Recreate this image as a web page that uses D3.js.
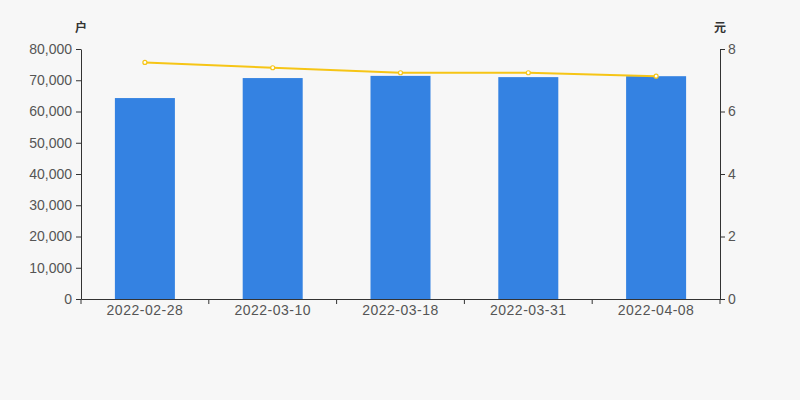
<!DOCTYPE html>
<html><head><meta charset="utf-8">
<script src="https://cdn.jsdelivr.net/npm/d3@7"></script>
<style>body{margin:0;background:#f7f7f7;}svg{display:block;}</style>
</head><body><svg id="c" width="800" height="400"></svg>
<script>
const categories = ["2022-02-28","2022-03-10","2022-03-18","2022-03-31","2022-04-08"];
const holders = [64300, 70700, 71400, 71000, 71300];
const prices = [7.57, 7.40, 7.24, 7.24, 7.13];
const leftTicks = [0,10000,20000,30000,40000,50000,60000,70000,80000];
const rightTicks = [0,2,4,6,8];

const svg = d3.select("#c");
svg.append("rect").attr("width",800).attr("height",400).attr("fill","#f7f7f7");
const m = {l:81, r:720, t:49, b:299};
const x = d3.scaleBand().domain(categories).range([m.l,m.r]);
const yL = d3.scaleLinear().domain([0,80000]).range([m.b,m.t]);
const yR = d3.scaleLinear().domain([0,8]).range([m.b,m.t]);
const font = "Arial, 'Liberation Sans', sans-serif";
const tc = "#555";

const bw = 60;
svg.append("g").selectAll("rect").data(categories).join("rect")
  .attr("x",(d)=>x(d)+x.bandwidth()/2-bw/2).attr("width",bw)
  .attr("y",(d,i)=>yL(holders[i])).attr("height",(d,i)=>m.b-yL(holders[i]))
  .attr("fill","#3482e2");

const gL = svg.append("g").attr("transform",`translate(${m.l},0)`)
  .call(d3.axisLeft(yL).tickValues(leftTicks).tickFormat(d3.format(",")).tickSize(5).tickSizeOuter(0));
const gR = svg.append("g").attr("transform",`translate(${m.r},0)`)
  .call(d3.axisRight(yR).tickValues(rightTicks).tickSize(5).tickSizeOuter(0));
const gX = svg.append("g").attr("transform",`translate(0,${m.b})`)
  .call(d3.axisBottom(x).tickSize(0).tickSizeOuter(0));
gX.selectAll("line.bt").data(d3.range(categories.length+1)).join("line").attr("class","bt")
  .attr("x1",i=>m.l+i*x.step()).attr("x2",i=>m.l+i*x.step()).attr("y1",0).attr("y2",5)
  .attr("stroke","#333");
[gL,gR,gX].forEach(g=>{
  g.selectAll(".domain").attr("stroke","#333");
  g.selectAll(".tick line").attr("stroke","#333");
  g.selectAll("text").attr("fill",tc).style("font-size","14px").style("font-family",font);
});
gL.selectAll(".tick text").attr("x",-9);
gR.selectAll(".tick text").attr("x",8);
gX.selectAll(".tick text").attr("y",6).style("letter-spacing","0.5px");

const line = d3.line().x((d,i)=>x(categories[i])+x.bandwidth()/2).y(d=>yR(d));
svg.append("path").datum(prices).attr("d",line).attr("fill","none")
  .attr("stroke","#f6c516").attr("stroke-width",2);
svg.append("g").selectAll("circle").data(prices).join("circle")
  .attr("cx",(d,i)=>x(categories[i])+x.bandwidth()/2).attr("cy",d=>yR(d)).attr("r",2)
  .attr("fill","#fff").attr("stroke","#f6c516").attr("stroke-width",1.2);

svg.append("text").attr("x",81).attr("y",32).attr("text-anchor","middle")
  .attr("fill","#333").style("font-size","12px").style("font-weight","bold").style("font-family","'Noto Sans CJK SC', sans-serif").text("户");
svg.append("text").attr("x",720).attr("y",32).attr("text-anchor","middle")
  .attr("fill","#333").style("font-size","12px").style("font-weight","bold").style("font-family","'Noto Sans CJK SC', sans-serif").text("元");
</script></body></html>
